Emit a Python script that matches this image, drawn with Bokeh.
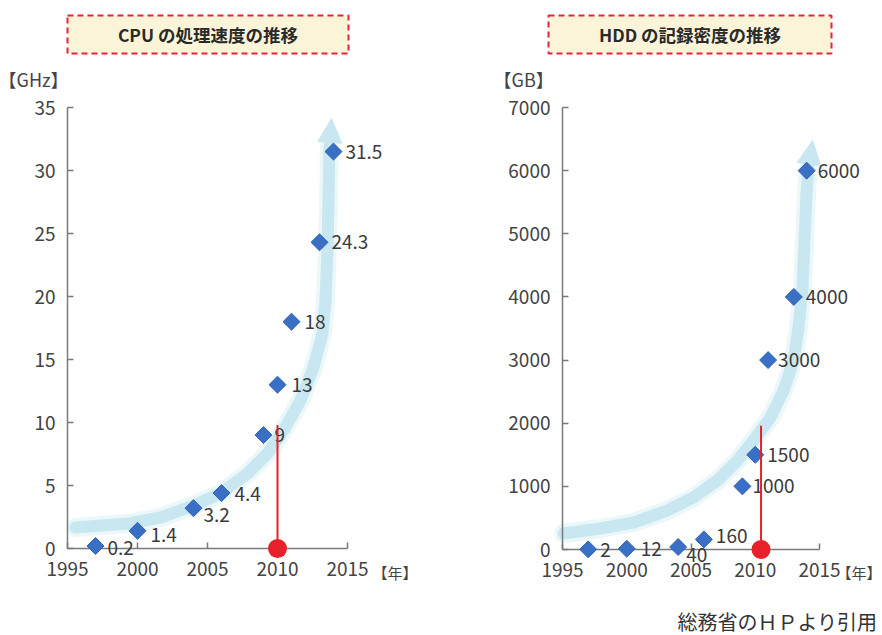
import numpy as np
from bokeh.plotting import figure
from bokeh.layouts import row
from bokeh.models import (Range1d, FixedTicker, ColumnDataSource, BoxAnnotation,
                          Label, Arrow, NormalHead)
from bokeh.core.properties import value
from bokeh.embed import file_html
from bokeh.resources import INLINE

# ---------------- data ----------------
years = [1997, 2000, 2004, 2006, 2009, 2010, 2011, 2013, 2014]
cpu_ghz = [0.2, 1.4, 3.2, 4.4, 9, 13, 18, 24.3, 31.5]
cpu_text = ["0.2", "1.4", "3.2", "4.4", "9", "13", "18", "24.3", "31.5"]
hdd_gb = [2, 12, 40, 160, 1000, 1500, 3000, 4000, 6000]
hdd_text = ["2", "12", "40", "160", "1000", "1500", "3000", "4000", "6000"]

year_ticks = [1995, 2000, 2005, 2010, 2015]
cpu_ticks = [0, 5, 10, 15, 20, 25, 30, 35]
hdd_ticks = [0, 1000, 2000, 3000, 4000, 5000, 6000, 7000]

cpu_title = "CPU の処理速度の推移"
hdd_title = "HDD の記録密度の推移"
cpu_unit = "【GHz】"
hdd_unit = "【GB】"
year_unit = "【年】"
source_note = "総務省のＨＰより引用"

# decorative trend arrows (guide points)
cpu_trend_year = [1995.57, 1999.29, 2001.64, 2004.0, 2005.93, 2007.86, 2009.29,
                  2010.43, 2011.64, 2012.57, 2013.21, 2013.43, 2013.57, 2013.64, 2013.71]
cpu_trend_val = [1.67, 1.98, 2.46, 3.41, 4.37, 5.95, 7.54, 9.37, 11.75, 14.37,
                 17.06, 19.68, 23.65, 27.62, 31.9]
cpu_arrow_tip = (2013.86, 34.13)
hdd_trend_year = [1995.08, 1997.96, 2000.53, 2003.17, 2005.19, 2007.06, 2008.62,
                  2009.86, 2011.19, 2012.2, 2012.98, 2013.37, 2013.68, 2013.83, 2013.99, 2014.14]
hdd_trend_val = [253, 333, 428, 618, 824, 1093, 1410, 1726, 2091, 2518, 2993,
                 3516, 4150, 4894, 5638, 6034]
hdd_arrow_tip = (2014.46, 6477)

# highlighted year (red pin)
cpu_pin_year, cpu_pin_top = 2010, 9.8
hdd_pin_year, hdd_pin_top = 2010.45, 1960

# label offsets (px, styling only)
cpu_dx = [12, 13, 10, 13, 11, 14, 13, 12, 12]
cpu_dy = [2, 4, 7, 1, 0, 0, 0, 0, 0]
hdd_dx = [12, 14, 8, 12, 10, 12, 10, 12, 11]
hdd_dy = [1, 0, 8, -3, 0, 0, 0, 0, 0]

FONT = "Noto Sans CJK JP"
FIG_W, FIG_H = 441, 635
AXIS_C = "#7a7a7a"
BLUE = "#3a6fc6"
RED = "#e8202a"
BAND = "#c8e7f0"


def build(ox, oy, ppx, ppy, ticks, ymax, vals, texts, dx, dy,
          trend_x, trend_y, tip, pin_x, pin_top, title, box_px, unit, unit_px,
          year_px, year_align):
    # frame covers the whole figure; axes are pinned with fixed_location
    x0 = 1995 - ox / ppx
    x1 = x0 + FIG_W / ppx
    y0 = -(FIG_H - oy) / ppy
    y1 = oy / ppy

    def X(px):
        return x0 + px / ppx

    def Y(py):
        return (oy - py) / ppy

    p = figure(width=FIG_W, height=FIG_H, x_range=Range1d(x0, x1),
               y_range=Range1d(y0, y1), output_backend="svg",
               toolbar_location=None, min_border_left=0, min_border_right=0,
               min_border_top=0, min_border_bottom=0, outline_line_color=None,
               background_fill_color="white", border_fill_color="white")
    p.xgrid.visible = False
    p.ygrid.visible = False

    for ax in (p.xaxis[0], p.yaxis[0]):
        ax.axis_line_color = AXIS_C
        ax.axis_line_width = 1.5
        ax.major_tick_line_color = AXIS_C
        ax.major_tick_line_width = 1.5
        ax.major_tick_in = 6
        ax.major_tick_out = 0
        ax.minor_tick_line_color = None
        ax.major_label_text_font = FONT
        ax.major_label_text_font_size = "19px"
        ax.major_label_text_color = "#444444"
    p.xaxis.ticker = FixedTicker(ticks=year_ticks)
    p.yaxis.ticker = FixedTicker(ticks=ticks)
    p.xaxis.bounds = (1995, 2015)
    p.yaxis.bounds = (0, ymax)
    p.xaxis.fixed_location = 0
    p.yaxis.fixed_location = 1995
    p.xaxis.major_label_standoff = 13
    p.yaxis.major_label_standoff = 12

    # title box
    p.add_layout(BoxAnnotation(left=X(box_px[0]), right=X(box_px[1]),
                               top=Y(15), bottom=Y(53), fill_color="#fbf4d8",
                               fill_alpha=1, line_color="#e8233f", line_alpha=1,
                               line_width=2, line_dash="6 4", level="underlay"))
    p.text(x=[X((box_px[0] + box_px[1]) / 2)], y=[Y(34)], text=[title],
           text_align="center", text_baseline="middle",
           text_font=value(FONT), text_font_size="17.5px",
           text_font_style="bold", text_color="#2a2a2a")

    # trend band + arrow head
    p.line(trend_x, trend_y, line_width=19, line_color="#e4f3f7", line_alpha=0.7,
           line_cap="round", line_join="round")
    p.line(trend_x, trend_y, line_width=12, line_color=BAND,
           line_cap="round", line_join="round")
    p.add_layout(Arrow(end=NormalHead(size=24, fill_color=BAND, line_color=BAND),
                       x_start=trend_x[-1], y_start=trend_y[-1],
                       x_end=tip[0], y_end=tip[1], line_alpha=0))

    # data markers and labels
    src = ColumnDataSource(dict(x=years, y=vals, t=texts, dx=dx, dy=dy))
    p.scatter("x", "y", source=src, marker="square", size=12, angle=np.pi / 4,
              fill_color=BLUE, line_color="#2f62b8", level="overlay")
    p.text("x", "y", text="t", x_offset="dx", y_offset="dy", source=src,
           text_align="left", text_baseline="middle", text_font=value(FONT),
           text_font_size="19px", text_color="#3a3a3a", level="overlay")

    # red pin
    p.segment(x0=[pin_x], y0=[0], x1=[pin_x], y1=[pin_top], line_color=RED,
              line_width=2, level="overlay")
    p.scatter([pin_x], [0], size=19, fill_color=RED, line_color=None,
              level="overlay")

    # unit labels
    p.add_layout(Label(x=X(unit_px[0]), y=Y(unit_px[1]), text=unit,
                       text_align="left", text_baseline="middle",
                       text_font=FONT, text_font_size="18px",
                       text_color="#444444"))
    p.add_layout(Label(x=X(year_px[0]), y=Y(year_px[1]), text=year_unit,
                       text_align=year_align, text_baseline="middle",
                       text_font=FONT, text_font_size="15px",
                       text_color="#444444"))
    return p, X, Y


p1, X1, Y1 = build(67, 548, 14.0, 12.6, cpu_ticks, 35, cpu_ghz, cpu_text,
                   cpu_dx, cpu_dy, cpu_trend_year, cpu_trend_val, cpu_arrow_tip,
                   cpu_pin_year, cpu_pin_top, cpu_title, (67, 348), cpu_unit,
                   (-2, 78), (372, 572), "left")
p2, X2, Y2 = build(121, 549, 12.85, 442 / 7000, hdd_ticks, 7000, hdd_gb, hdd_text,
                   hdd_dx, hdd_dy, hdd_trend_year, hdd_trend_val, hdd_arrow_tip,
                   hdd_pin_year, hdd_pin_top, hdd_title, (107, 390), hdd_unit,
                   (52, 78), (440, 572), "right")
p2.add_layout(Label(x=X2(436), y=Y2(621), text=source_note, text_align="right",
                    text_baseline="middle", text_font=FONT,
                    text_font_size="20px", text_color="#333333"))

layout = row(p1, p2, spacing=0)
open("out.html", "w").write(file_html(layout, INLINE))
